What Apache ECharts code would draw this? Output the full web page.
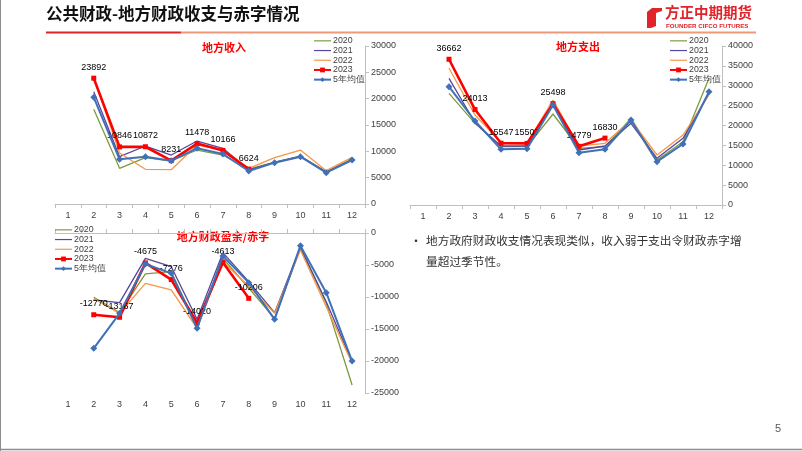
<!DOCTYPE html>
<html>
<head>
<meta charset="utf-8">
<script src="https://cdn.jsdelivr.net/npm/echarts@6/dist/echarts.min.js"></script>
<style>
  html, body { margin: 0; padding: 0; background: #fff; }
  #main { width: 802px; height: 451px; }
</style>
</head>
<body>
<div id="main"></div>
<script>
// months on the category axis
const months = ['1', '2', '3', '4', '5', '6', '7', '8', '9', '10', '11', '12'];
const seriesNames = ['2020', '2021', '2022', '2023', '5年均值'];

// 地方收入 (亿元)
const rev2020 = ['-', 17980, 6780, 8790, 8165, 10250, 9300, 6600, 7950, 9100, 6100, 8600];
const rev2021 = ['-', 21330, 8990, 11010, 9300, 11960, 10570, 6500, 7900, 9050, 6050, 8400];
const rev2022 = ['-', 24010, 9680, 6590, 6520, 11200, 10300, 6780, 8790, 10250, 6330, 8860];
const rev2023 = ['-', 23892, 10846, 10872, 8231, 11478, 10166, 6624];
const revAvg = ['-', 20250, 8480, 8990, 8230, 10570, 9490, 6270, 7850, 8990, 5950, 8350];

// 地方支出 (亿元)
const exp2020 = ['-', 28100, 20550, 14670, 14670, 22890, 14260, 14670, 21800, 11320, 15930, 31870];
const exp2021 = ['-', 31870, 20700, 14840, 14840, 25330, 13840, 14840, 20550, 11740, 16770, 28100];
const exp2022 = ['-', 34390, 22640, 15680, 15510, 26410, 14840, 15510, 21380, 12580, 17610, 27670];
const exp2023 = ['-', 36662, 24013, 15547, 15507, 25498, 14779, 16830];
const expAvg = ['-', 29770, 21130, 14010, 14170, 25160, 13160, 14010, 21380, 10900, 15340, 28500];

// 地方财政盈余/赤字 (亿元)
const bal2020 = ['-', -10050, -12450, -6400, -6040, -14640, -3960, -8600, -13330, -2390, -10990, -23750];
const bal2021 = ['-', -10470, -10890, -3960, -5260, -13490, -3070, -7600, -12450, -2230, -10730, -20100];
const bal2022 = ['-', -10210, -12550, -7860, -8900, -14900, -4480, -8330, -12550, -2660, -11510, -20360];
const bal2023 = ['-', -12770, -13167, -4675, -7276, -14020, -4613, -10206];
const balAvg = ['-', -18020, -12550, -4840, -6300, -14900, -3590, -7760, -13490, -1980, -9320, -20000];

const colors = ['#7f9a3c', '#57479a', '#f79646', '#ff0000', '#3f70b8'];
const axisColor = '#bfbfbf';
const labelColor = '#404040';
const numFont = 'Liberation Sans';
const plainLineIcon = 'path://M0,0H20V1.4H0Z';

function makeSeries(gridIdx, data, xIdx, yIdx) {
    return data.map((values, i) => {
        const s = {
            name: seriesNames[i],
            type: 'line',
            xAxisIndex: xIdx,
            yAxisIndex: yIdx,
            data: values,
            symbol: 'none',
            z: 2 + i,
            lineStyle: { color: colors[i], width: 1.3 },
            itemStyle: { color: colors[i] },
            emphasis: { disabled: true },
            animation: false
        };
        if (i === 3) {
            s.symbol = 'rect';
            s.symbolSize = 5;
            s.lineStyle.width = 2.6;
            s.label = {
                show: true, position: 'top', distance: 4,
                fontSize: 9, fontFamily: numFont, color: '#000'
            };
        }
        if (i === 4) {
            s.symbol = 'diamond';
            s.symbolSize = 7;
            s.lineStyle.width = 2;
        }
        return s;
    });
}

function legendAt(left, top) {
    return {
        orient: 'vertical', left: left, top: top, padding: 0,
        itemWidth: 17, itemHeight: 6, itemGap: 0,
        selectedMode: false,
        data: seriesNames.map((n, i) => i < 3 ? { name: n, icon: plainLineIcon } : { name: n }),
        textStyle: { fontSize: 8.8, fontFamily: numFont, color: '#404040', lineHeight: 9.7, padding: [0, 0, 0, -3] }
    };
}

function catAxis(gridIdx, opts) {
    return Object.assign({
        type: 'category', gridIndex: gridIdx, data: months, boundaryGap: true,
        axisLine: { show: true, lineStyle: { color: axisColor } },
        axisTick: { show: true, inside: false, length: 4, lineStyle: { color: axisColor } },
        axisLabel: { fontSize: 9, fontFamily: numFont, color: labelColor, margin: 7 },
        splitLine: { show: false }
    }, opts || {});
}

function valAxis(gridIdx, min, max) {
    return {
        type: 'value', gridIndex: gridIdx, position: 'right',
        min: min, max: max, interval: 5000,
        axisLine: { show: true, lineStyle: { color: axisColor } },
        axisTick: { show: true, length: 4, lineStyle: { color: axisColor } },
        axisLabel: { fontSize: 9, fontFamily: numFont, color: labelColor, margin: 6, formatter: v => String(v) },
        splitLine: { show: false }
    };
}

const titleStyle = { fill: '#ff0000', fontSize: 11, fontWeight: 'bold', fontFamily: 'Noto Sans CJK SC' };

const chart = echarts.init(document.getElementById('main'), null, { renderer: 'canvas' });

const option = {
    backgroundColor: '#fff',
    animation: false,
    grid: [
        { left: 55, top: 46, width: 310, height: 158 },
        { left: 410, top: 46, width: 312, height: 159 },
        { left: 55, top: 233, width: 310, height: 160 }
    ],
    xAxis: [
        catAxis(0),
        catAxis(1),
        catAxis(2, { axisLine: { show: false }, axisTick: { show: false } }),
        catAxis(2, { position: 'top', axisLabel: { show: false } })
    ],
    yAxis: [
        valAxis(0, 0, 30000),
        valAxis(1, 0, 40000),
        valAxis(2, -25000, 0)
    ],
    legend: [
        legendAt(313, 36),
        legendAt(669, 36),
        legendAt(54, 225)
    ],
    series: [].concat(
        makeSeries(0, [rev2020, rev2021, rev2022, rev2023, revAvg], 0, 0),
        makeSeries(1, [exp2020, exp2021, exp2022, exp2023, expAvg], 1, 1),
        makeSeries(2, [bal2020, bal2021, bal2022, bal2023, balAvg], 2, 2)
    ),
    graphic: [
        // slide frame
        { type: 'line', shape: { x1: 0.5, y1: 0, x2: 0.5, y2: 451 }, style: { stroke: '#8c8c8c', lineWidth: 1 } },
        { type: 'line', shape: { x1: 0, y1: 449.5, x2: 802, y2: 449.5 }, style: { stroke: '#8c8c8c', lineWidth: 1.5 } },
        // header
        { type: 'text', left: 46, top: 5, style: { text: '公共财政-地方财政收支与赤字情况', fill: '#111', fontSize: 16.5, fontWeight: 'bold', fontFamily: 'Noto Sans CJK SC' } },
        { type: 'line', shape: { x1: 46, y1: 32.5, x2: 181, y2: 32.5 }, style: { stroke: '#d9262b', lineWidth: 2 } },
        { type: 'line', shape: { x1: 181, y1: 32.5, x2: 756, y2: 32.5 }, style: { stroke: '#ee9a7a', lineWidth: 2 } },
        // logo
        { type: 'polygon', shape: { points: [[652, 8], [662, 8], [662, 11], [656, 13], [656, 26], [651, 28], [647, 28], [647, 12]] }, style: { fill: '#e1232a' } },
        { type: 'text', left: 665, top: 5, style: { text: '方正中期期货', fill: '#e1232a', fontSize: 14.5, fontWeight: 'bold', fontFamily: 'Noto Sans CJK SC' } },
        { type: 'text', left: 666, top: 23, style: { text: 'FOUNDER CIFCO FUTURES', fill: '#e1232a', fontSize: 6.2, fontWeight: 'bold', fontFamily: 'Liberation Sans' } },
        // chart titles
        { type: 'text', x: 224, y: 48, style: Object.assign({ text: '地方收入', align: 'center', verticalAlign: 'middle' }, titleStyle) },
        { type: 'text', x: 578, y: 47, style: Object.assign({ text: '地方支出', align: 'center', verticalAlign: 'middle' }, titleStyle) },
        { type: 'text', x: 223, y: 237, style: Object.assign({ text: '地方财政盈余/赤字', align: 'center', verticalAlign: 'middle' }, titleStyle) },
        // commentary
        { type: 'text', x: 410, y: 241, style: { text: '•', fill: '#333', fontSize: 12, verticalAlign: 'middle', fontFamily: 'Noto Sans CJK SC' } },
        { type: 'text', x: 426, y: 241, style: { text: '地方政府财政收支情况表现类似，收入弱于支出令财政赤字增', fill: '#333', fontSize: 11.7, verticalAlign: 'middle', fontFamily: 'Noto Sans CJK SC' } },
        { type: 'text', x: 426, y: 262, style: { text: '量超过季节性。', fill: '#333', fontSize: 11.7, verticalAlign: 'middle', fontFamily: 'Noto Sans CJK SC' } },
        // page number
        { type: 'text', x: 778, y: 429, style: { text: '5', fill: '#595959', fontSize: 11, align: 'center', verticalAlign: 'middle', fontFamily: 'Liberation Sans' } }
    ]
};

chart.setOption(option);
</script>
</body>
</html>
